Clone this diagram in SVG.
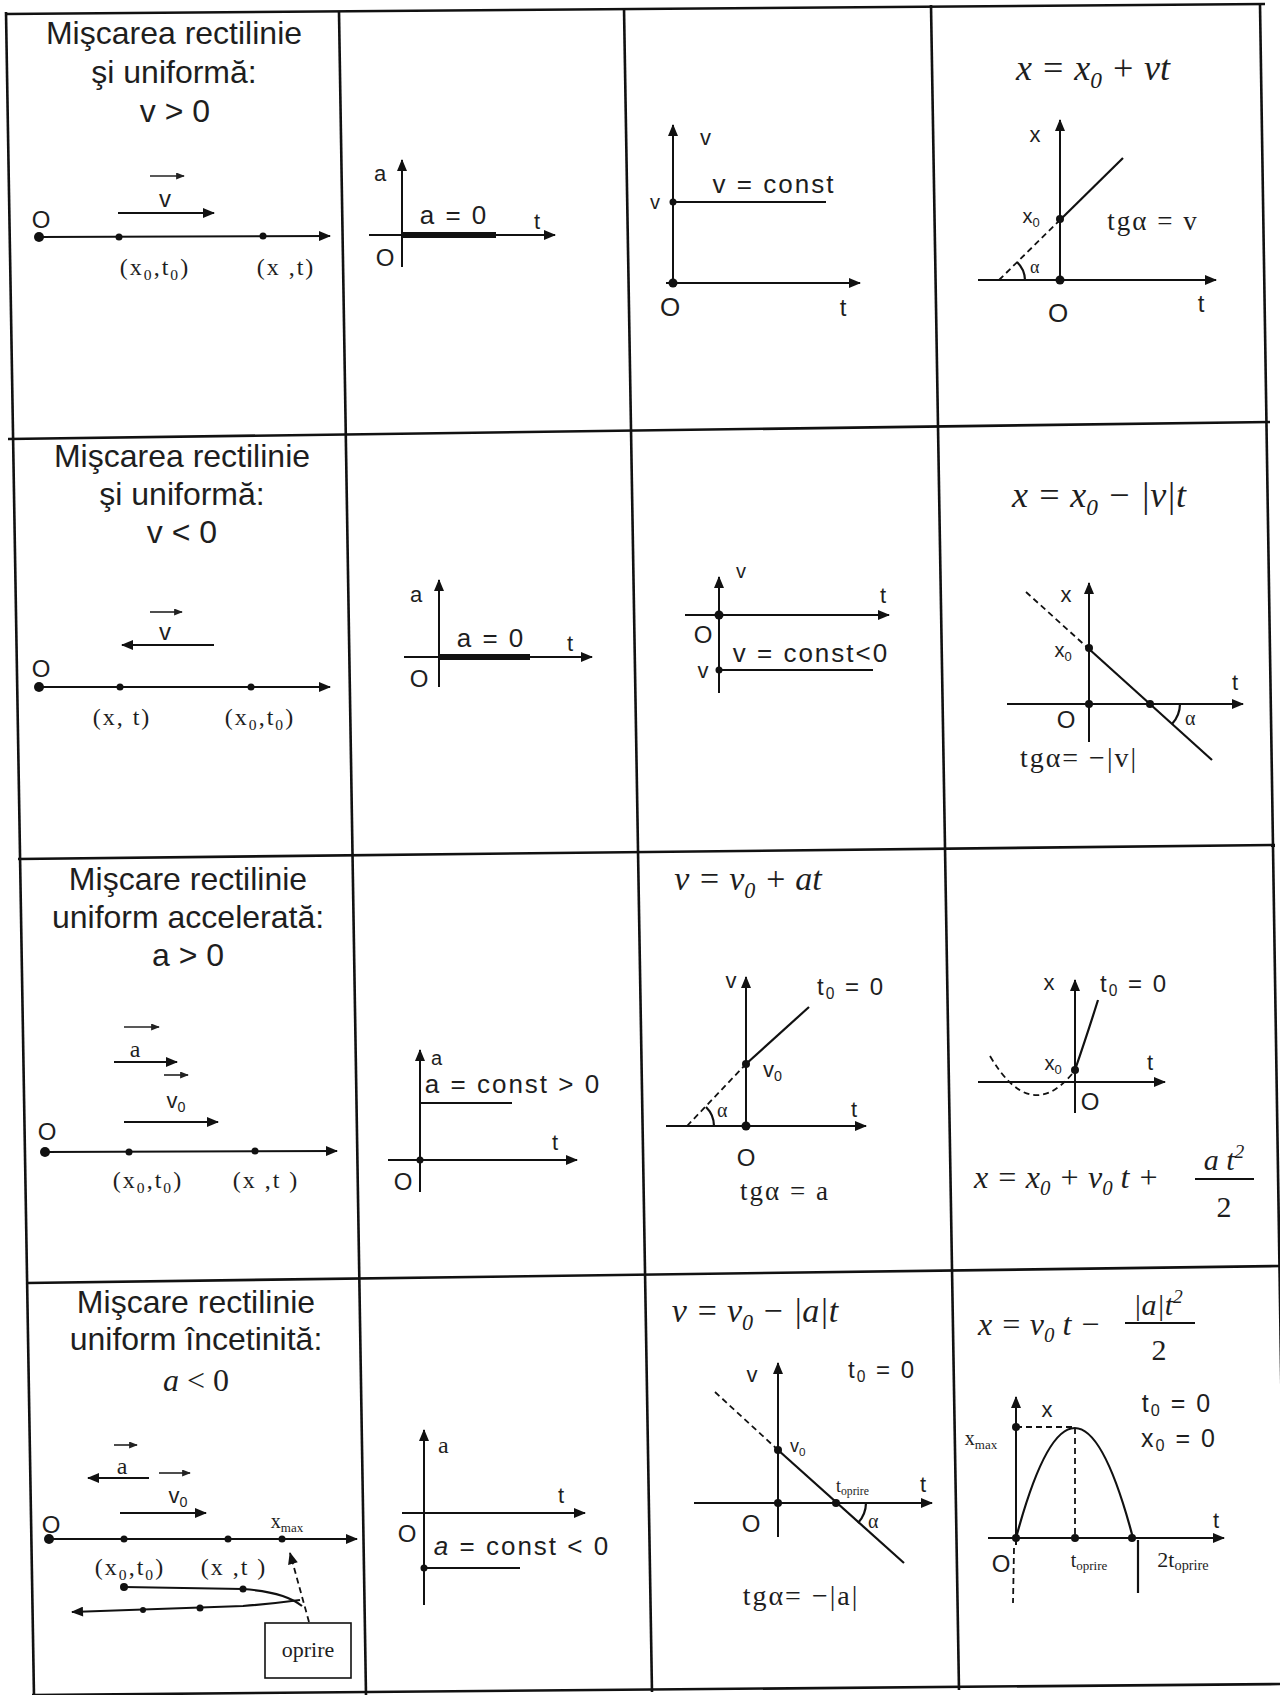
<svg xmlns="http://www.w3.org/2000/svg" width="1280" height="1695" viewBox="0 0 1280 1695">
<defs>
<marker id="ah" viewBox="0 0 12 10" refX="11" refY="5" markerWidth="13" markerHeight="10" markerUnits="userSpaceOnUse" orient="auto"><path d="M0,0 L12,5 L0,10 z" fill="#111"/></marker>
<marker id="as" viewBox="0 0 10 8" refX="9" refY="4" markerWidth="9" markerHeight="7" markerUnits="userSpaceOnUse" orient="auto"><path d="M0,0 L10,4 L0,8 z" fill="#222"/></marker>
</defs>
<style>
.g{stroke:#111;stroke-width:2.6;fill:none}
.ax{stroke:#111;stroke-width:2;fill:none;marker-end:url(#ah)}
.va{stroke:#222;stroke-width:1.6;fill:none;marker-end:url(#as)}
.ln{stroke:#111;stroke-width:2.2;fill:none}
.dl{stroke:#111;stroke-width:1.8;fill:none;stroke-dasharray:6 4}
.th{stroke:#111;stroke-width:6}
.dot{fill:#111}
.s{font-family:"Liberation Sans",Arial,sans-serif;fill:#1e1e1e}
.r{font-family:"Liberation Serif","Times New Roman",serif;fill:#1e1e1e}
.f{font-family:"Liberation Serif","Times New Roman",serif;font-style:italic;fill:#1e1e1e}
.ttl{font-size:32px;text-anchor:middle}
.m{text-anchor:middle}
.sb{font-size:65%}
.lb{font-size:24px;letter-spacing:2px;text-anchor:middle}
.w{letter-spacing:2px}
</style>
<rect width="1280" height="1695" fill="#fff"/>
<g id="grid">
<line class="g" x1="5" y1="14" x2="1265" y2="4"/>
<line class="g" x1="8" y1="439" x2="1270" y2="422"/>
<line class="g" x1="18" y1="859" x2="1275" y2="845"/>
<line class="g" x1="27" y1="1283" x2="1282" y2="1266"/>
<line class="g" x1="32" y1="1695" x2="1282" y2="1684"/>
<line class="g" x1="6" y1="12" x2="34" y2="1697"/>
<line class="g" x1="339" y1="12" x2="366" y2="1695"/>
<line class="g" x1="624" y1="8" x2="652" y2="1692"/>
<line class="g" x1="931" y1="5" x2="959" y2="1690"/>
<line class="g" x1="1260" y1="4" x2="1286" y2="1690"/>
</g>

<g id="r1c1">
<text class="s ttl" x="174" y="44">Mişcarea rectilinie</text>
<text class="s ttl" x="174" y="83">şi uniformă:</text>
<text class="s ttl" x="175" y="122" font-size="28">v &gt; 0</text>
<line class="ax" x1="39" y1="237" x2="330" y2="236"/>
<circle class="dot" cx="39" cy="237" r="5"/><circle class="dot" cx="119" cy="237" r="3.5"/><circle class="dot" cx="263" cy="236" r="3.5"/>
<text class="s m" x="41" y="228" font-size="24">O</text>
<line class="ax" x1="118" y1="213" x2="214" y2="213"/>
<text class="s m" x="165" y="207" font-size="24">v</text>
<line class="va" x1="150" y1="176" x2="184" y2="176"/>
<text class="r lb" x="155" y="275">(x<tspan class="sb" dy="5">0</tspan><tspan dy="-5">,t</tspan><tspan class="sb" dy="5">0</tspan><tspan dy="-5">)</tspan></text>
<text class="r lb" x="286" y="275">(x ,t)</text>
</g>

<g id="r1c2">
<line class="ax" x1="402" y1="267" x2="402" y2="160"/>
<line class="ax" x1="369" y1="235" x2="555" y2="235"/>
<line class="th" x1="402" y1="235" x2="496" y2="235"/>
<text class="s" x="374" y="181" font-size="22">a</text>
<text class="s m w" x="454" y="224" font-size="26">a = 0</text>
<text class="s" x="534" y="229" font-size="22">t</text>
<text class="s m" x="385" y="266" font-size="24">O</text>
</g>

<g id="r1c3">
<line class="ax" x1="673" y1="283" x2="673" y2="125"/>
<line class="ax" x1="666" y1="283" x2="860" y2="283"/>
<circle class="dot" cx="673" cy="283" r="4.5"/>
<text class="s" x="700" y="145" font-size="22">v</text>
<text class="s m" x="655" y="209" font-size="20">v</text>
<line class="ln" x1="673" y1="202" x2="826" y2="202"/>
<circle class="dot" cx="673" cy="202" r="3.5"/>
<text class="s m w" x="774" y="193" font-size="26">v = const</text>
<text class="s m" x="670" y="316" font-size="26">O</text>
<text class="s m" x="843" y="316" font-size="24">t</text>
</g>

<g id="r1c4">
<text class="f m" x="1093" y="80" font-size="36">x = x<tspan class="sb" dy="8">0</tspan><tspan dy="-8"> + vt</tspan></text>
<line class="ax" x1="1060" y1="280" x2="1060" y2="120"/>
<line class="ax" x1="978" y1="280" x2="1216" y2="280"/>
<line class="dl" x1="999" y1="280" x2="1060" y2="220"/>
<line class="ln" x1="1060" y1="220" x2="1123" y2="158"/>
<circle class="dot" cx="1060" cy="219" r="4"/><circle class="dot" cx="1060" cy="280" r="4.5"/>
<text class="s m" x="1035" y="142" font-size="22">x</text>
<text class="s m" x="1031" y="223" font-size="20">x<tspan class="sb" dy="4">0</tspan></text>
<text class="r m w" x="1153" y="230" font-size="27">tgα = v</text>
<path class="ln" d="M1025,280 A26,26 0 0 0 1017,262" stroke-width="1.6"/>
<text class="r" x="1030" y="273" font-size="18">α</text>
<text class="s m" x="1058" y="322" font-size="26">O</text>
<text class="s m" x="1201" y="312" font-size="24">t</text>
</g>

<g id="r2c1">
<text class="s ttl" x="182" y="467">Mişcarea rectilinie</text>
<text class="s ttl" x="182" y="505">şi uniformă:</text>
<text class="s ttl" x="182" y="543" font-size="28">v &lt; 0</text>
<line class="ax" x1="39" y1="687" x2="330" y2="687"/>
<circle class="dot" cx="39" cy="687" r="5"/><circle class="dot" cx="120" cy="687" r="3.5"/><circle class="dot" cx="251" cy="687" r="3.5"/>
<text class="s m" x="41" y="677" font-size="24">O</text>
<line class="ax" x1="214" y1="645" x2="122" y2="645"/>
<text class="s m" x="165" y="640" font-size="24">v</text>
<line class="va" x1="150" y1="612" x2="182" y2="612"/>
<text class="r lb" x="122" y="725">(x, t)</text>
<text class="r lb" x="260" y="725">(x<tspan class="sb" dy="5">0</tspan><tspan dy="-5">,t</tspan><tspan class="sb" dy="5">0</tspan><tspan dy="-5">)</tspan></text>
</g>

<g id="r2c2">
<line class="ax" x1="439" y1="687" x2="439" y2="580"/>
<line class="ax" x1="404" y1="657" x2="592" y2="657"/>
<line class="th" x1="439" y1="657" x2="530" y2="657"/>
<text class="s" x="410" y="602" font-size="22">a</text>
<text class="s m w" x="491" y="647" font-size="26">a = 0</text>
<text class="s" x="567" y="651" font-size="22">t</text>
<text class="s m" x="419" y="687" font-size="24">O</text>
</g>

<g id="r2c3">
<line class="ax" x1="719" y1="693" x2="719" y2="577"/>
<line class="ax" x1="685" y1="615" x2="889" y2="615"/>
<circle class="dot" cx="719" cy="615" r="4.5"/>
<text class="s" x="736" y="578" font-size="20">v</text>
<text class="s m" x="883" y="603" font-size="22">t</text>
<text class="s m" x="703" y="643" font-size="24">O</text>
<text class="s m w" x="811" y="662" font-size="26">v = const&lt;0</text>
<text class="s m" x="703" y="678" font-size="22">v</text>
<line class="ln" x1="719" y1="670" x2="873" y2="670"/>
<circle class="dot" cx="719" cy="670" r="3.5"/>
</g>

<g id="r2c4">
<text class="f m" x="1099" y="507" font-size="36">x = x<tspan class="sb" dy="8">0</tspan><tspan dy="-8"> − |v|t</tspan></text>
<line class="ax" x1="1089" y1="742" x2="1089" y2="583"/>
<line class="ax" x1="1007" y1="704" x2="1243" y2="704"/>
<line class="dl" x1="1026" y1="592" x2="1089" y2="649"/>
<line class="ln" x1="1089" y1="649" x2="1212" y2="760"/>
<circle class="dot" cx="1089" cy="648" r="4"/><circle class="dot" cx="1089" cy="704" r="4"/><circle class="dot" cx="1150" cy="704" r="4"/>
<text class="s m" x="1066" y="602" font-size="22">x</text>
<text class="s m" x="1063" y="657" font-size="20">x<tspan class="sb" dy="4">0</tspan></text>
<text class="s m" x="1235" y="690" font-size="22">t</text>
<text class="s m" x="1066" y="728" font-size="24">O</text>
<path class="ln" d="M1180,704 A30,30 0 0 1 1172,724" stroke-width="1.6"/>
<text class="r" x="1185" y="725" font-size="20">α</text>
<text class="r m w" x="1079" y="767" font-size="28">tgα= −|v|</text>
</g>

<g id="r3c1">
<text class="s ttl" x="188" y="890">Mişcare rectilinie</text>
<text class="s ttl" x="188" y="928">uniform accelerată:</text>
<text class="s ttl" x="188" y="966" font-size="28">a &gt; 0</text>
<line class="ax" x1="45" y1="1152" x2="337" y2="1151"/>
<circle class="dot" cx="45" cy="1152" r="5"/><circle class="dot" cx="129" cy="1152" r="3.5"/><circle class="dot" cx="255" cy="1151" r="3.5"/>
<text class="s m" x="47" y="1140" font-size="24">O</text>
<line class="va" x1="124" y1="1027" x2="159" y2="1027"/>
<text class="r m" x="135" y="1057" font-size="24">a</text>
<line class="ax" x1="114" y1="1062" x2="177" y2="1062"/>
<line class="va" x1="164" y1="1075" x2="188" y2="1075"/>
<text class="s m" x="176" y="1108" font-size="22">v<tspan class="sb" dy="4">0</tspan></text>
<line class="ax" x1="124" y1="1122" x2="218" y2="1122"/>
<text class="r lb" x="148" y="1188">(x<tspan class="sb" dy="5">0</tspan><tspan dy="-5">,t</tspan><tspan class="sb" dy="5">0</tspan><tspan dy="-5">)</tspan></text>
<text class="r lb" x="266" y="1188">(x ,t )</text>
</g>

<g id="r3c2">
<line class="ax" x1="420" y1="1192" x2="420" y2="1050"/>
<line class="ax" x1="388" y1="1160" x2="577" y2="1160"/>
<circle class="dot" cx="420" cy="1160" r="3.5"/>
<text class="s" x="431" y="1065" font-size="20">a</text>
<text class="s m w" x="513" y="1093" font-size="26">a = const &gt; 0</text>
<line class="ln" x1="420" y1="1103" x2="512" y2="1103"/>
<text class="s" x="552" y="1150" font-size="22">t</text>
<text class="s m" x="403" y="1190" font-size="24">O</text>
</g>

<g id="r3c3">
<text class="f m" x="748" y="890" font-size="34">v = v<tspan class="sb" dy="8">0</tspan><tspan dy="-8"> + at</tspan></text>
<line class="ax" x1="746" y1="1130" x2="746" y2="977"/>
<line class="ax" x1="666" y1="1126" x2="866" y2="1126"/>
<line class="dl" x1="687" y1="1126" x2="746" y2="1064"/>
<line class="ln" x1="746" y1="1064" x2="809" y2="1007"/>
<circle class="dot" cx="746" cy="1064" r="4"/><circle class="dot" cx="746" cy="1126" r="4.5"/>
<text class="s m" x="731" y="988" font-size="22">v</text>
<text class="s m w" x="851" y="995" font-size="24">t<tspan class="sb" dy="4">0</tspan><tspan dy="-4"> = 0</tspan></text>
<text class="s" x="763" y="1077" font-size="22">v<tspan class="sb" dy="4">0</tspan></text>
<path class="ln" d="M714,1126 A27,27 0 0 0 706,1107" stroke-width="1.6"/>
<text class="r" x="717" y="1117" font-size="20">α</text>
<text class="s m" x="854" y="1117" font-size="22">t</text>
<text class="s m" x="746" y="1166" font-size="24">O</text>
<text class="r m w" x="785" y="1200" font-size="27">tgα = a</text>
</g>

<g id="r3c4">
<line class="ax" x1="1075" y1="1113" x2="1075" y2="980"/>
<line class="ax" x1="978" y1="1082" x2="1165" y2="1082"/>
<path class="dl" d="M990,1056 Q1030,1124 1072,1074"/>
<path class="ln" d="M1075,1070 Q1088,1032 1098,1000"/>
<circle class="dot" cx="1075" cy="1070" r="4"/>
<text class="s m" x="1049" y="990" font-size="22">x</text>
<text class="s m w" x="1134" y="992" font-size="24">t<tspan class="sb" dy="4">0</tspan><tspan dy="-4"> = 0</tspan></text>
<text class="s m" x="1053" y="1070" font-size="20">x<tspan class="sb" dy="4">0</tspan></text>
<text class="s m" x="1150" y="1070" font-size="22">t</text>
<text class="s m" x="1090" y="1110" font-size="24">O</text>
<text class="f" x="974" y="1188" font-size="32">x = x<tspan class="sb" dy="7">0</tspan><tspan dy="-7"> + v</tspan><tspan class="sb" dy="7">0</tspan><tspan dy="-7"> t +</tspan></text>
<text class="f m" x="1224" y="1170" font-size="30">a t<tspan class="sb" dy="-12">2</tspan></text>
<line class="ln" x1="1195" y1="1179" x2="1254" y2="1179" stroke-width="1.8"/>
<text class="r m" x="1224" y="1217" font-size="30">2</text>
</g>

<g id="r4c1">
<text class="s ttl" x="196" y="1313">Mişcare rectilinie</text>
<text class="s ttl" x="196" y="1350">uniform încetinită:</text>
<text class="r m" x="196" y="1391" font-size="32"><tspan font-style="italic">a</tspan> &lt; 0</text>
<line class="ax" x1="49" y1="1539" x2="357" y2="1539"/>
<circle class="dot" cx="49" cy="1539" r="5"/><circle class="dot" cx="124" cy="1539" r="3.5"/><circle class="dot" cx="228" cy="1539" r="3.5"/><circle class="dot" cx="282" cy="1539" r="3.5"/>
<text class="s m" x="51" y="1533" font-size="24">O</text>
<line class="va" x1="114" y1="1445" x2="137" y2="1445"/>
<text class="r m" x="122" y="1474" font-size="24">a</text>
<line class="ax" x1="149" y1="1478" x2="88" y2="1478"/>
<line class="va" x1="159" y1="1473" x2="190" y2="1473"/>
<text class="s m" x="178" y="1503" font-size="22">v<tspan class="sb" dy="4">0</tspan></text>
<line class="ax" x1="120" y1="1513" x2="206" y2="1513"/>
<text class="r m" x="287" y="1528" font-size="20">x<tspan class="sb" dy="4">max</tspan></text>
<text class="r lb" x="130" y="1575">(x<tspan class="sb" dy="5">0</tspan><tspan dy="-5">,t</tspan><tspan class="sb" dy="5">0</tspan><tspan dy="-5">)</tspan></text>
<text class="r lb" x="234" y="1575">(x ,t )</text>
<path class="ln" d="M124,1587 L243,1589 Q285,1592 302,1606"/>
<path class="ln" d="M300,1600 Q270,1604 243,1606 L72,1612" style="marker-end:url(#ah)"/>
<circle class="dot" cx="124" cy="1587" r="4"/><circle class="dot" cx="243" cy="1589" r="3.5"/><circle class="dot" cx="200" cy="1608" r="3.5"/><circle class="dot" cx="143" cy="1610" r="3"/>
<line class="dl" x1="309" y1="1622" x2="290" y2="1553" style="marker-end:url(#ah)"/>
<rect x="265" y="1623" width="86" height="55" fill="none" stroke="#111" stroke-width="1.6"/>
<text class="r m" x="308" y="1657" font-size="22">oprire</text>
</g>

<g id="r4c2">
<line class="ax" x1="424" y1="1605" x2="424" y2="1430"/>
<line class="ax" x1="402" y1="1513" x2="585" y2="1513"/>
<text class="r" x="438" y="1453" font-size="24">a</text>
<text class="s" x="558" y="1503" font-size="22">t</text>
<text class="s m" x="407" y="1542" font-size="24">O</text>
<text class="s m w" x="522" y="1555" font-size="26"><tspan font-style="italic">a</tspan> = const &lt; 0</text>
<line class="ln" x1="424" y1="1568" x2="520" y2="1568"/>
<circle class="dot" cx="424" cy="1568" r="3.5"/>
</g>

<g id="r4c3">
<text class="f m" x="755" y="1322" font-size="34">v = v<tspan class="sb" dy="8">0</tspan><tspan dy="-8"> − |a|t</tspan></text>
<line class="ax" x1="778" y1="1537" x2="778" y2="1363"/>
<line class="ax" x1="694" y1="1503" x2="932" y2="1503"/>
<line class="dl" x1="715" y1="1392" x2="778" y2="1450"/>
<line class="ln" x1="778" y1="1450" x2="904" y2="1563"/>
<circle class="dot" cx="778" cy="1450" r="4"/><circle class="dot" cx="778" cy="1503" r="4"/><circle class="dot" cx="836" cy="1503" r="4"/>
<text class="s m" x="752" y="1382" font-size="22">v</text>
<text class="s m w" x="882" y="1378" font-size="24">t<tspan class="sb" dy="4">0</tspan><tspan dy="-4"> = 0</tspan></text>
<text class="s" x="790" y="1452" font-size="18">v<tspan class="sb" dy="4">0</tspan></text>
<text class="r" x="836" y="1492" font-size="18">t<tspan class="sb" dy="3">oprire</tspan></text>
<text class="s m" x="923" y="1492" font-size="22">t</text>
<text class="s m" x="751" y="1532" font-size="24">O</text>
<path class="ln" d="M866,1503 A30,30 0 0 1 858,1523" stroke-width="1.6"/>
<text class="r" x="868" y="1528" font-size="20">α</text>
<text class="r m w" x="801" y="1605" font-size="28">tgα= −|a|</text>
</g>

<g id="r4c4">
<text class="f" x="978" y="1335" font-size="32">x = v<tspan class="sb" dy="7">0</tspan><tspan dy="-7"> t −</tspan></text>
<text class="f m" x="1158" y="1315" font-size="30">|a|t<tspan class="sb" dy="-12">2</tspan></text>
<line class="ln" x1="1125" y1="1323" x2="1195" y2="1323" stroke-width="1.8"/>
<text class="r m" x="1159" y="1360" font-size="30">2</text>
<line class="ax" x1="1016" y1="1545" x2="1016" y2="1397"/>
<line class="dl" x1="1014" y1="1548" x2="1013" y2="1603"/>
<line class="ax" x1="988" y1="1538" x2="1224" y2="1538"/>
<path class="ln" d="M1016,1538 Q1075,1318 1133,1538" stroke-width="1.8"/>
<line class="dl" x1="1016" y1="1427" x2="1075" y2="1427"/>
<line class="dl" x1="1075" y1="1428" x2="1075" y2="1538"/>
<line class="ln" x1="1138" y1="1540" x2="1138" y2="1593" stroke-width="1.6"/>
<circle class="dot" cx="1016" cy="1427" r="4"/><circle class="dot" cx="1016" cy="1538" r="4"/><circle class="dot" cx="1075" cy="1538" r="4"/><circle class="dot" cx="1132" cy="1538" r="4"/>
<text class="s m" x="1047" y="1417" font-size="22">x</text>
<text class="r m" x="981" y="1445" font-size="20">x<tspan class="sb" dy="4">max</tspan></text>
<text class="s m w" x="1177" y="1412" font-size="25">t<tspan class="sb" dy="4">0</tspan><tspan dy="-4"> = 0</tspan></text>
<text class="s m w" x="1179" y="1447" font-size="25">x<tspan class="sb" dy="4">0</tspan><tspan dy="-4"> = 0</tspan></text>
<text class="s m" x="1216" y="1528" font-size="22">t</text>
<text class="s m" x="1001" y="1572" font-size="24">O</text>
<text class="r m" x="1089" y="1567" font-size="20">t<tspan class="sb" dy="3">oprire</tspan></text>
<text class="r m" x="1183" y="1567" font-size="22">2t<tspan class="sb" dy="3">oprire</tspan></text>
</g>
</svg>
